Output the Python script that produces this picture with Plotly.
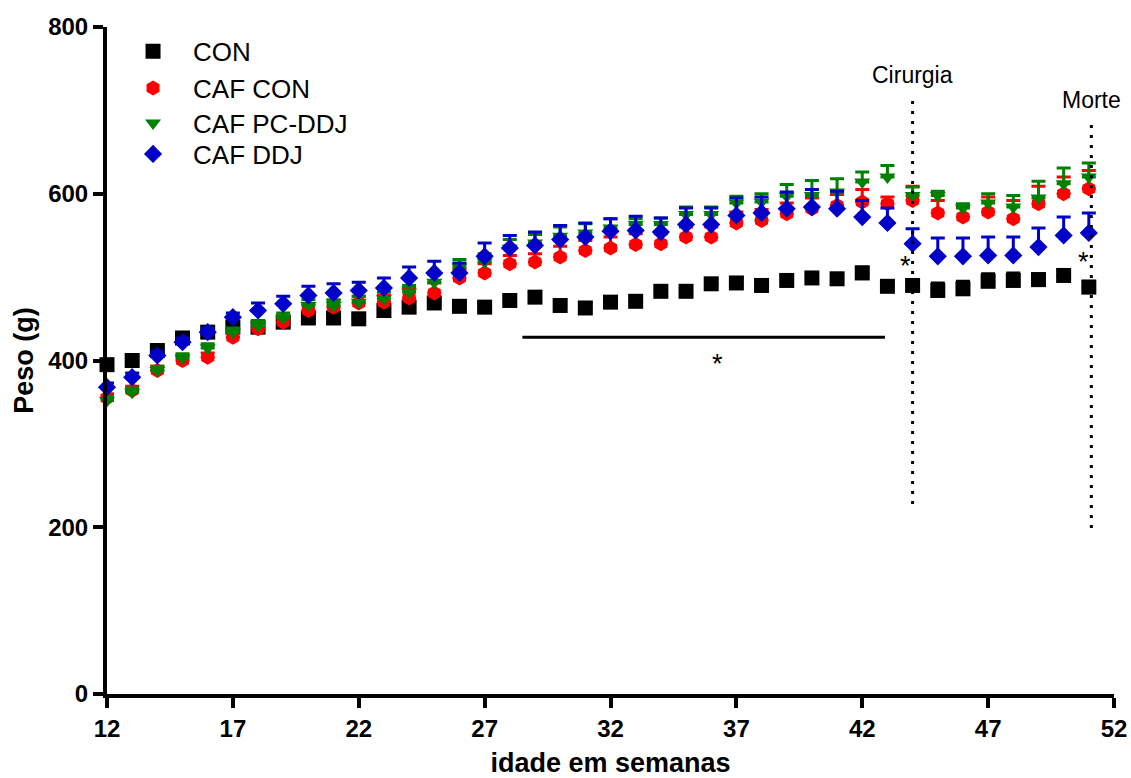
import plotly.graph_objects as go

weeks = list(range(12, 52))

con = [395, 400, 412, 427, 434, 440, 440, 446, 451, 451,
       450, 460, 464, 469, 465, 464, 472, 476, 466, 463,
       470, 471, 483, 483, 492, 493, 490, 496, 499, 498,
       505, 489, 490, 484, 486, 495, 496, 497, 502, 488]
con_sem = [5, 5, 5, 5, 5, 5, 5, 5, 6, 6,
           6, 6, 6, 6, 6, 6, 6, 6, 6, 6,
           6, 6, 6, 6, 6, 6, 6, 6, 6, 6,
           7, 7, 7, 9, 9, 9, 9, 7, 7, 7]

caf_con = [355, 364, 388, 400, 404, 428, 438, 446, 460, 464,
           469, 470, 475, 481, 499, 505, 516, 518, 524, 532,
           535, 539, 540, 548, 548, 565, 568, 576, 582, 586,
           590, 588, 592, 577, 572, 578, 570, 588, 600, 606]
caf_con_sem = [5, 5, 5, 5, 5, 6, 6, 7, 8, 8,
               8, 8, 12, 12, 10, 11, 10, 10, 13, 12,
               13, 13, 12, 12, 12, 13, 13, 13, 13, 13,
               15, 8, 17, 15, 13, 18, 22, 21, 20, 22]

caf_pcddj = [352, 362, 388, 403, 415, 434, 442, 451, 466, 466,
             470, 474, 482, 494, 512, 518, 535, 541, 549, 553,
             559, 563, 563, 575, 575, 589, 590, 597, 598, 602,
             614, 620, 598, 598, 583, 589, 584, 595, 612, 620]
caf_pcddj_sem = [5, 5, 5, 5, 5, 5, 6, 6, 7, 7,
                 7, 8, 8, 9, 9, 10, 10, 10, 11, 11,
                 11, 7, 8, 9, 9, 8, 10, 14, 18, 16,
                 12, 14, 10, 5, 5, 11, 14, 20, 19, 17]

caf_ddj = [368, 380, 406, 422, 434, 452, 460, 468, 478, 481,
           484, 487, 499, 505, 505, 525, 535, 538, 545, 548,
           555, 556, 554, 563, 563, 574, 577, 582, 584, 582,
           572, 565, 540, 525, 525, 526, 526, 536, 550, 553]
caf_ddj_sem = [5, 5, 5, 5, 5, 5, 9, 9, 11, 11,
               10, 12, 13, 14, 12, 16, 15, 16, 17, 17,
               15, 17, 17, 20, 20, 21, 19, 20, 21, 21,
               20, 18, 18, 22, 22, 22, 22, 23, 22, 24]

series_names = ["CON", "CAF CON", "CAF PC-DDJ", "CAF DDJ"]
series_values = [con, caf_con, caf_pcddj, caf_ddj]
series_sems = [con_sem, caf_con_sem, caf_pcddj_sem, caf_ddj_sem]
series_colors = ["#000000", "#FF0000", "#008000", "#0000C8"]
series_symbols = ["square", "hexagon", "triangle-down", "diamond"]
series_sizes = [15, 15, 14, 14]
legend_rows_y = [0.9635, 0.9085, 0.856, 0.8095]

x_ticks = [12, 17, 22, 27, 32, 37, 42, 47, 52]
y_ticks = [0, 200, 400, 600, 800]

# event markers (week, y-range of dotted line, label, label y)
surgery_week = 44.0
surgery_span = [228, 715]
surgery_label = "Cirurgia"
surgery_label_y = 742
death_week = 51.1
death_span = [199, 686]
death_label = "Morte"
death_label_y = 712

# significance bar
sig_bar_x = [28.5, 42.9]
sig_bar_y = 428
stars = [(11.8, 414), (43.7, 513), (50.8, 518), (36.25, 396)]

FONT = "Liberation Sans, Arial, sans-serif"

fig = go.Figure()
legend_layout = {}
for i, (name, vals, sem, col, sym, sz) in enumerate(zip(series_names, series_values, series_sems,
                                                      series_colors, series_symbols, series_sizes)):
    lname = "legend" if i == 0 else "legend%d" % (i + 1)
    fig.add_trace(go.Scatter(
        x=weeks, y=vals, mode="markers", name=name, legend=lname,
        marker=dict(symbol=sym, size=sz, color=col, line=dict(width=0)),
        error_y=dict(type="data", symmetric=False, array=sem, arrayminus=[0] * len(sem),
                     color=col, thickness=3, width=7),
        cliponaxis=False,
    ))
    legend_layout[lname] = dict(x=0.006, y=legend_rows_y[i], xanchor="left", yanchor="middle",
                                font=dict(family=FONT, size=26, color="black"),
                                itemwidth=70, bgcolor="rgba(0,0,0,0)", borderwidth=0)

dot = "3px,7px"
for wk, span in [(surgery_week, surgery_span), (death_week, death_span)]:
    fig.add_shape(type="line", xref="x", yref="y", x0=wk, x1=wk, y0=span[0], y1=span[1],
                  line=dict(color="black", width=3, dash=dot))

fig.add_shape(type="line", xref="x", yref="y", x0=sig_bar_x[0], x1=sig_bar_x[1],
              y0=sig_bar_y, y1=sig_bar_y, line=dict(color="black", width=3))

for wk, ly, txt in [(surgery_week, surgery_label_y, surgery_label), (death_week, death_label_y, death_label)]:
    fig.add_annotation(x=wk, y=ly, xref="x", yref="y", text=txt, showarrow=False,
                       font=dict(family=FONT, size=23, color="black"))

for sx, sy in stars:
    fig.add_annotation(x=sx, y=sy, xref="x", yref="y", text="*", showarrow=False,
                       font=dict(family=FONT, size=27, color="black"))

axis_font = dict(family=FONT, size=27, color="black")
tick_font = dict(family=FONT, size=24, color="black")
fig.update_layout(
    width=1131, height=778,
    margin=dict(l=107, r=17, t=27, b=84, autoexpand=False),
    paper_bgcolor="white", plot_bgcolor="white",
    showlegend=True,
    xaxis=dict(range=[12, 52], tickmode="array", tickvals=x_ticks,
               ticktext=["<b>%d</b>" % t for t in x_ticks],
               showline=True, linecolor="black", linewidth=4, mirror=False,
               ticks="outside", ticklen=10, tickwidth=4, tickcolor="black",
               showgrid=False, zeroline=False, tickfont=tick_font,
               automargin=False, ticklabeloverflow="allow",
               title=dict(text="<b>idade em semanas</b>", font=axis_font, standoff=21)),
    yaxis=dict(range=[0, 800], tickmode="array", tickvals=y_ticks,
               ticktext=["<b>%d</b>" % t for t in y_ticks],
               showline=True, linecolor="black", linewidth=4,
               ticks="outside", ticklen=10, tickwidth=4, tickcolor="black",
               showgrid=False, zeroline=False, tickfont=tick_font,
               automargin=False, ticklabeloverflow="allow",
               title=dict(text="<b>Peso (g)</b>", font=axis_font, standoff=8)),
    **legend_layout,
)

fig.write_html("out.html", config={"displayModeBar": False},
               post_script="document.body.style.margin='0px';document.body.style.overflow='hidden';")
